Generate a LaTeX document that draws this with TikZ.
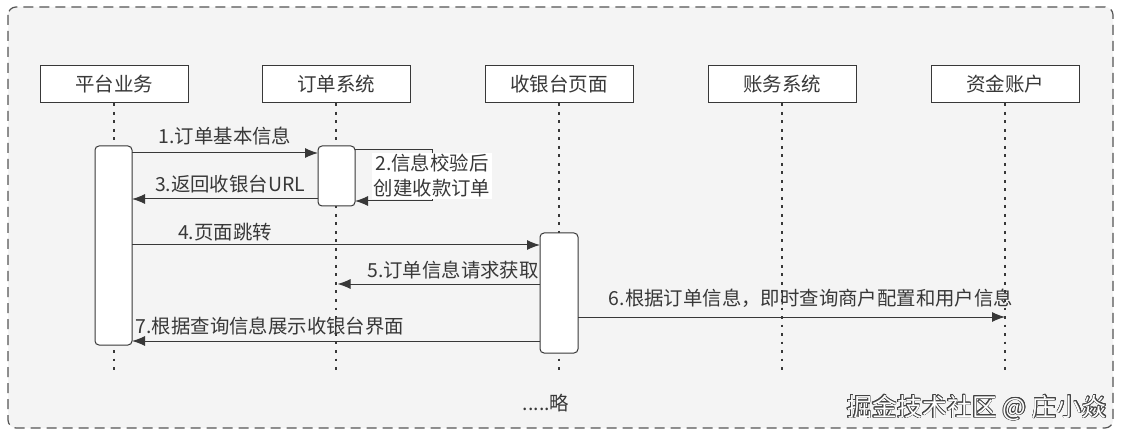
\documentclass[tikz,border=0pt]{standalone}
\usepackage{fontspec}
\setmainfont{Noto Sans CJK SC}
\usepackage{contour}
\usetikzlibrary{arrows.meta}
\definecolor{bgc}{HTML}{F4F4F4}
\definecolor{ink}{HTML}{383838}
\definecolor{frame}{HTML}{555555}
\definecolor{wmline}{HTML}{444444}
\contourlength{0.7pt}
\begin{document}
\begin{tikzpicture}[x=1pt,y=-1pt,
  every node/.style={text=ink, font=\fontsize{19.4}{24}\selectfont, inner sep=0pt},
  hdr/.style={draw=ink, line width=1pt, fill=white, minimum width=148pt, minimum height=37pt, font=\fontsize{19.5}{24}\selectfont},
  life/.style={draw=ink, line width=2.4pt, dash pattern=on 2.6pt off 5.9pt},
  act/.style={draw=ink, line width=1pt, fill=white, rounded corners=4pt},
  msg/.style={draw=ink, line width=1pt, -{Latex[length=13pt,width=10pt]}},
  lbl/.style={anchor=center}
]
\useasboundingbox (0,0) rectangle (1121,438);
\fill[white] (0,0) rectangle (1121,438);
\draw[frame, fill=bgc, line width=1.2pt, dash pattern=on 10pt off 6pt, rounded corners=8pt] (8,7) rectangle (1113,428);

% headers
\node[hdr] (h1) at (114,84.5) {平台业务};
\node[hdr] (h2) at (336,84.5) {订单系统};
\node[hdr] (h3) at (559,84.5) {收银台页面};
\node[hdr] (h4) at (782,84.5) {账务系统};
\node[hdr] (h5) at (1005,84.5) {资金账户};

% lifeline ends
\coordinate (e1) at (114,372);
\coordinate (e2) at (336,372);
\coordinate (e3) at (559,372);
\coordinate (e4) at (782,372);
\coordinate (e5) at (1005,372);
\foreach \i in {1,...,5} {\draw[life] (h\i.south) -- (e\i);}

% activations
\draw[act] (95,146) rectangle (132,345);
\coordinate (a1w) at (95,0); \coordinate (a1e) at (132,0);
\draw[act] (318,146) rectangle (355,206);
\coordinate (a2w) at (318,0); \coordinate (a2e) at (355,0);
\draw[act] (540,233) rectangle (578,353);
\coordinate (a3w) at (540,0); \coordinate (a3e) at (578,0);
\coordinate (loop) at (432,0);

% messages
\draw[msg] (a1e |- 0,153) -- (a2w |- 0,153);
\node[lbl] (l1) at (225,136) {1.订单基本信息};

\draw[msg] (a2e |- 0,150) -- (loop |- 0,150) -- (loop |- 0,201) -- (a2e |- 0,201);
\node[lbl, fill=white, inner xsep=2pt, inner ysep=1pt, align=center, font=\fontsize{19.4}{25}\selectfont] (l2) at (432,176) {2.信息校验后\\创建收款订单};

\draw[msg] (a2w |- 0,199) -- (a1e |- 0,199);
\node[lbl] (l3) at (230,184) {3.返回收银台URL};

\draw[msg] (a1e |- 0,245) -- (a3w |- 0,245);
\node[lbl] (l4) at (225,232) {4.页面跳转};

\draw[msg] (a3w |- 0,284) -- ([xshift=1.5pt]e2 |- 0,284);
\node[lbl] (l5) at (453,270) {5.订单信息请求获取};

\draw[msg] (a3e |- 0,317) -- (e5 |- 0,317);
\node[lbl] (l6) at (811,298) {6.根据订单信息，即时查询商户配置和用户信息};

\draw[msg] (a3w |- 0,341) -- (a1e |- 0,341);
\node[lbl] (l7) at (270,326) {7.根据查询信息展示收银台界面};

\node[lbl] (more) at (546,403) {.....略};

\node[lbl, font=\fontsize{25}{30}\selectfont] (wm) at (977,408) {\contour{wmline}{\textcolor{white}{掘金技术社区 @ 庄小焱}}};
\end{tikzpicture}
\end{document}
